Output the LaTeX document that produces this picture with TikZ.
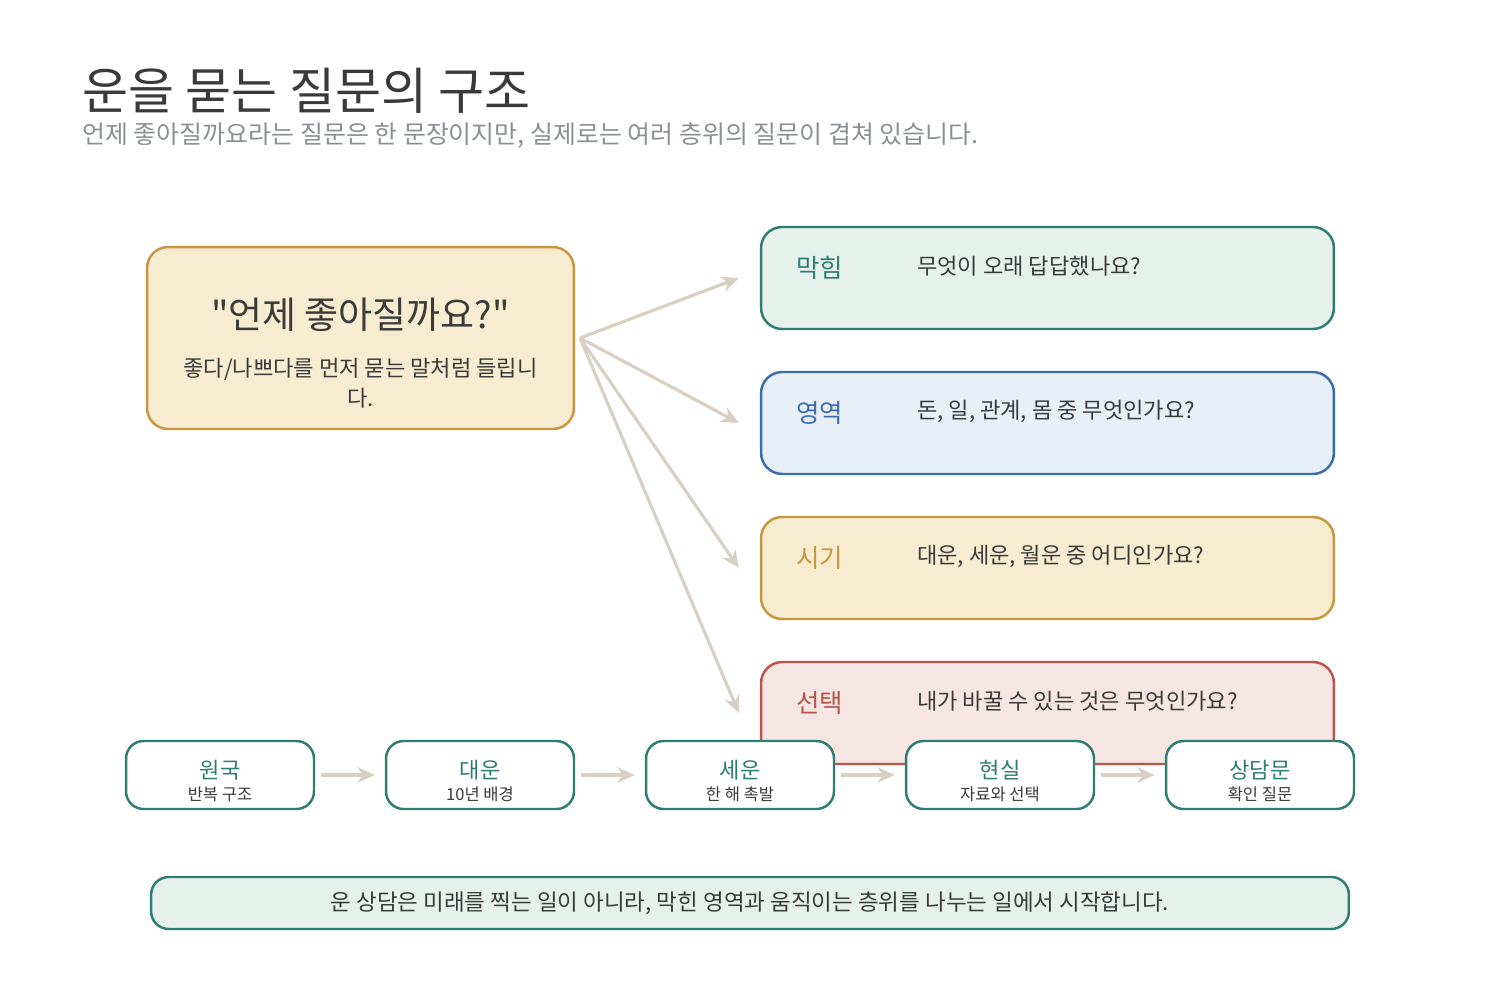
\documentclass[tikz,border=0pt]{standalone}
\usepackage{fontspec}
\setmainfont{Noto Sans CJK KR}[Ligatures=TeXOff]
\usetikzlibrary{arrows.meta}
\definecolor{ink}{HTML}{3A3A3A}
\definecolor{greyt}{HTML}{8A8F96}
\definecolor{teal}{HTML}{2E7D72}
\definecolor{tealfill}{HTML}{E6F1EC}
\definecolor{blueb}{HTML}{3A6DB0}
\definecolor{bluefill}{HTML}{E8EFF7}
\definecolor{gold}{HTML}{C8963C}
\definecolor{goldfill}{HTML}{F7EBD0}
\definecolor{redb}{HTML}{B85448}
\definecolor{redfill}{HTML}{F6E6E3}
\definecolor{link}{HTML}{D8D0C2}
\tikzset{
    panel/.style={draw=#1, line width=1.4pt, rounded corners=12pt, inner sep=0pt},
    stage/.style={draw=teal, fill=white, line width=1.4pt, rounded corners=10pt,
        minimum width=3.76cm, minimum height=1.36cm, inner sep=0pt},
    linkarrow/.style={draw=link, line width=1.8pt, -{Stealth[length=10pt,width=9pt]}},
    tag/.style={font=\fontsize{14.5}{17}\selectfont, anchor=west},
    ask/.style={font=\fontsize{12.6}{15}\selectfont, text=ink, anchor=west},
}
\begin{document}
\begin{tikzpicture}[x=0.02cm, y=-0.02cm]
    \useasboundingbox (0,0) rectangle (1500,980);

    % Title
    \node[anchor=base west, font=\fontsize{28.5}{32}\selectfont, text=ink, inner sep=0pt] (title) at (82,110) {운을 묻는 질문의 구조};
    \node[anchor=base west, font=\fontsize{14.2}{17}\selectfont, text=greyt, inner sep=0pt] (subtitle) at (82,143) {언제 좋아질까요라는 질문은 한 문장이지만, 실제로는 여러 층위의 질문이 겹쳐 있습니다.};

    % Main question
    \node[panel=gold, fill=goldfill, minimum width=8.54cm, minimum height=3.64cm] (main) at (360.5,338) {};
    \node[font=\fontsize{21}{24}\selectfont, text=ink] (mainq) at (360.5,315) {"언제 좋아질까요?"};
    \node[font=\fontsize{12.6}{17}\selectfont, text=ink, align=center] (maind) at (360.5,383) {좋다/나쁘다를 먼저 묻는 말처럼 들립니\\다.};

    % Layers
    \path
    (1047.5,278) node[panel=teal, fill=tealfill, minimum width=11.46cm, minimum height=2.04cm] (L1) {}
    (1047.5,423) node[panel=blueb, fill=bluefill, minimum width=11.46cm, minimum height=2.04cm] (L2) {}
    (1047.5,568) node[panel=gold, fill=goldfill, minimum width=11.46cm, minimum height=2.04cm] (L3) {}
    (1047.5,713) node[panel=redb, fill=redfill, minimum width=11.46cm, minimum height=2.04cm] (L4) {}
    ;
    \node[tag, text=teal] (T1) at (790,268) {막힘};
    \node[tag, text=blueb] (T2) at (790,413) {영역};
    \node[tag, text=gold] (T3) at (790,558) {시기};
    \node[tag, text=redb] (T4) at (790,703) {선택};
    \node[ask] (Q1) at (911,266) {무엇이 오래 답답했나요?};
    \node[ask] (Q2) at (911,411) {돈, 일, 관계, 몸 중 무엇인가요?};
    \node[ask] (Q3) at (911,556) {대운, 세운, 월운 중 어디인가요?};
    \node[ask] (Q4) at (911,701) {내가 바꿀 수 있는 것은 무엇인가요?};

    % Links
    \coordinate (hub) at (580,338);
    \draw[linkarrow] (hub) -- ([xshift=-0.42cm]L1.west);
    \draw[linkarrow] (hub) -- ([xshift=-0.42cm]L2.west);
    \draw[linkarrow] (hub) -- ([xshift=-0.42cm]L3.west);
    \draw[linkarrow] (hub) -- ([xshift=-0.42cm]L4.west);

    % Stages
    \path
    (220,775) node[stage] (S1) {}
    (480,775) node[stage] (S2) {}
    (740,775) node[stage] (S3) {}
    (1000,775) node[stage] (S4) {}
    (1260,775) node[stage] (S5) {}
    ;
    \foreach \n/\a/\b in {S1/원국/반복 구조, S2/대운/10년 배경, S3/세운/한 해 촉발, S4/현실/자료와 선택, S5/상담문/확인 질문} {
        \node[font=\fontsize{12.6}{14}\selectfont, text=teal] at ([yshift=0.1cm]\n.center) {\a};
        \node[font=\fontsize{9.4}{10}\selectfont, text=ink] at ([yshift=-0.38cm]\n.center) {\b};
    }
    \draw[linkarrow] ([xshift=0.12cm]S1.east) -- ([xshift=-0.2cm]S2.west);
    \draw[linkarrow] ([xshift=0.12cm]S2.east) -- ([xshift=-0.2cm]S3.west);
    \draw[linkarrow] ([xshift=0.12cm]S3.east) -- ([xshift=-0.2cm]S4.west);
    \draw[linkarrow] ([xshift=0.12cm]S4.east) -- ([xshift=-0.2cm]S5.west);

    % Closing note
    \node[panel=teal, fill=tealfill, rounded corners=10pt, minimum width=23.96cm, minimum height=1.04cm] (note) at (750,903) {};
    \node[font=\fontsize{12.8}{15}\selectfont, text=ink] (notet) at (note.center) {운 상담은 미래를 찍는 일이 아니라, 막힌 영역과 움직이는 층위를 나누는 일에서 시작합니다.};
\end{tikzpicture}
\end{document}
